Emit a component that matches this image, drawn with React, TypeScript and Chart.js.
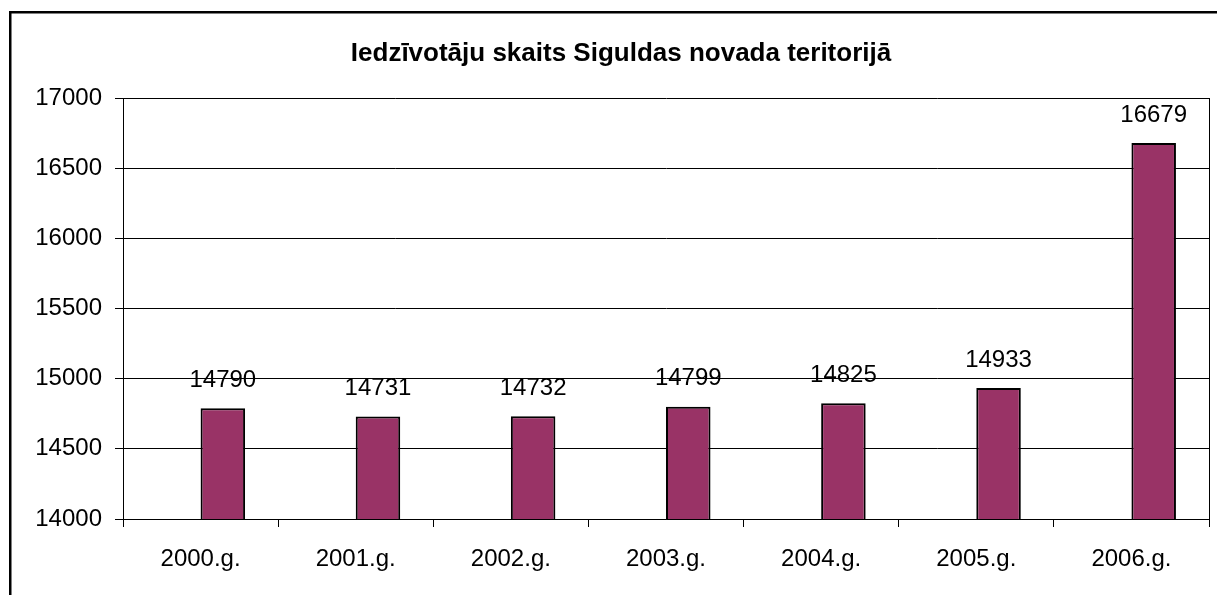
import React, { useEffect, useRef } from "react";
import { Chart, registerables } from "chart.js";

Chart.register(...registerables);

const title = "Iedzīvotāju skaits Siguldas novada teritorijā";
const categories = ["2000.g.", "2001.g.", "2002.g.", "2003.g.", "2004.g.", "2005.g.", "2006.g."];
const emptySeries: (number | null)[] = [null, null, null, null, null, null, null];
const population = [14790, 14731, 14732, 14799, 14825, 14933, 16679];
const yMin = 14000;
const yMax = 17000;
const yStep = 500;

const FONT = "'Liberation Sans', Arial, sans-serif";

const decorPlugin = {
  id: "decor",
  beforeDraw(chart: any) {
    const ctx = chart.ctx;
    ctx.save();
    ctx.fillStyle = "#ffffff";
    ctx.fillRect(0, 0, chart.width, chart.height);
    ctx.strokeStyle = "#000000";
    ctx.lineWidth = 2.5;
    ctx.strokeRect(10.25, 12.25, chart.width + 20, chart.height + 20);
    ctx.restore();
  },
  afterDraw(chart: any) {
    const ctx = chart.ctx;
    const a = chart.chartArea;
    ctx.save();
    ctx.strokeStyle = "#000000";
    ctx.lineWidth = 1;
    ctx.beginPath();
    ctx.moveTo(Math.round(a.right) + 0.5, a.top);
    ctx.lineTo(Math.round(a.right) + 0.5, a.bottom);
    ctx.stroke();
    ctx.fillStyle = "#000000";
    ctx.font = "bold 26px " + FONT;
    ctx.textAlign = "center";
    ctx.textBaseline = "alphabetic";
    ctx.fillText(title, 621, 61);
    ctx.restore();
  },
  afterDatasetsDraw(chart: any) {
    const ctx = chart.ctx;
    const meta = chart.getDatasetMeta(1);
    const data = chart.data.datasets[1].data;
    ctx.save();
    ctx.fillStyle = "#000000";
    ctx.font = "24px " + FONT;
    ctx.textAlign = "center";
    ctx.textBaseline = "middle";
    meta.data.forEach((bar: any, i: number) => {
      ctx.fillText(String(data[i]), bar.x, bar.y - 28);
    });
    ctx.restore();
  },
};

export default function App() {
  const ref = useRef<HTMLCanvasElement>(null);
  useEffect(() => {
    if (!ref.current) return;
    const chart = new Chart(ref.current, {
      type: "bar",
      data: {
        labels: categories,
        datasets: [
          {
            label: "",
            data: emptySeries,
            backgroundColor: "#993366",
            borderColor: "#000000",
            borderWidth: 2,
          },
          {
            label: "Iedzīvotāji",
            data: population,
            backgroundColor: "#993366",
            borderColor: "#000000",
            borderWidth: 2,
            borderSkipped: false,
          },
        ],
      },
      options: {
        responsive: false,
        animation: false,
        maintainAspectRatio: false,
        layout: { padding: { top: 98, left: 0, right: 8, bottom: 0 } },
        datasets: { bar: { categoryPercentage: 0.574, barPercentage: 1 } },
        plugins: {
          legend: { display: false },
          title: { display: false },
          tooltip: { enabled: false },
        },
        scales: {
          x: {
            offset: true,
            grid: {
              offset: true,
              drawOnChartArea: false,
              drawTicks: true,
              tickLength: 8,
              color: "#000000",
            },
            border: { display: true, color: "#000000", width: 1 },
            ticks: {
              color: "#000000",
              font: { family: FONT, size: 24 },
              padding: 18,
              maxRotation: 0,
              autoSkip: false,
            },
            afterFit(scale: any) {
              scale.height = 76;
            },
          },
          y: {
            min: yMin,
            max: yMax,
            grid: {
              color: "#000000",
              lineWidth: 1,
              tickLength: 8,
              drawTicks: true,
            },
            border: { display: true, color: "#000000", width: 1 },
            ticks: {
              stepSize: yStep,
              color: "#000000",
              font: { family: FONT, size: 24 },
              padding: 13,
              callback: (v: any) => String(v),
            },
            afterFit(scale: any) {
              scale.width = 123;
            },
          },
        },
      },
      plugins: [decorPlugin],
    });
    return () => chart.destroy();
  }, []);
  return (
    <div style={{ position: "absolute", left: 0, top: 0, width: 1217, height: 595 }}>
      <canvas ref={ref} width={1217} height={595} style={{ display: "block" }} />
    </div>
  );
}
